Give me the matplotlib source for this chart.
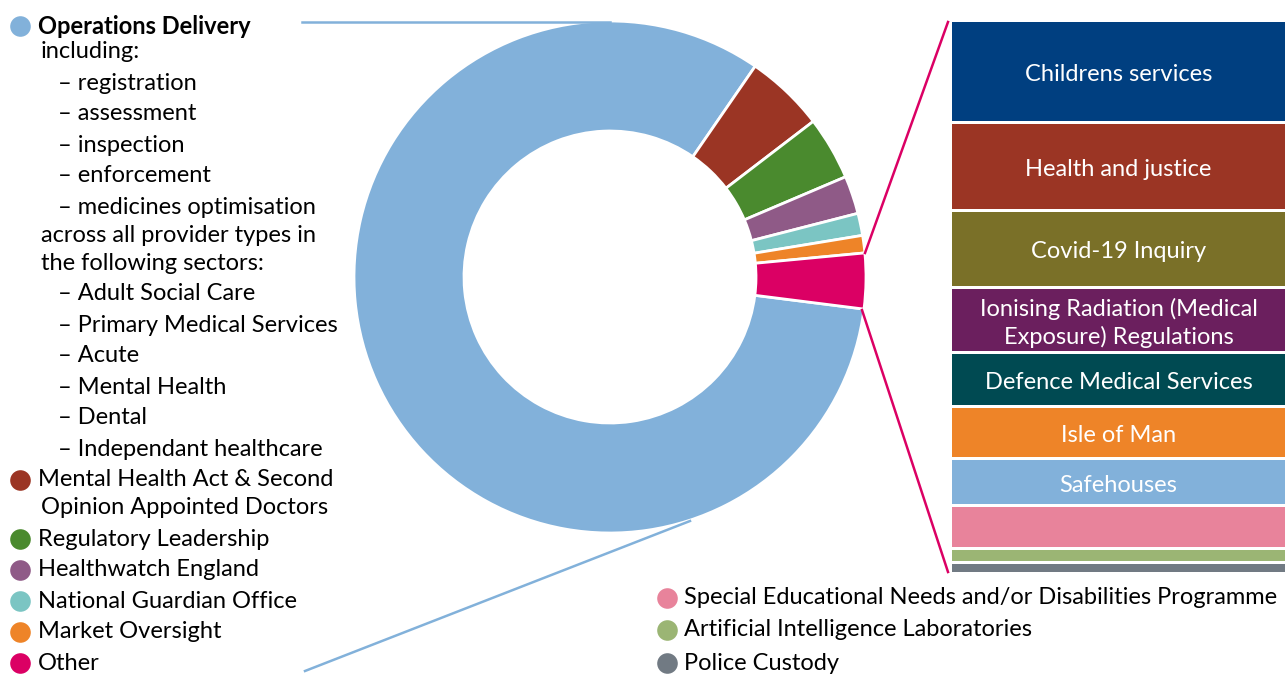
import matplotlib
matplotlib.use("Agg")
import matplotlib.pyplot as plt

plt.rcParams['font.family'] = ['Lato', 'DejaVu Sans']

# Main donut: share of spend (%)
main_labels = ['Operations Delivery', 'Mental Health Act & Second\nOpinion Appointed Doctors',
               'Regulatory Leadership', 'Healthwatch England', 'National Guardian Office',
               'Market Oversight', 'Other']
main_values = [82.6, 5.0, 4.0, 2.4, 1.4, 1.1, 3.5]
main_colors = ['#82b1da', '#9b3524', '#4a8a2e', '#8f5a87', '#7bc5c3', '#ee8428', '#db0064']

# Breakdown of "Other"
other_labels = ['Childrens services', 'Health and justice', 'Covid-19 Inquiry',
                'Ionising Radiation (Medical\nExposure) Regulations', 'Defence Medical Services',
                'Isle of Man', 'Safehouses',
                'Special Educational Needs and/or Disabilities Programme',
                'Artificial Intelligence Laboratories', 'Police Custody']
other_values = [102, 88, 77, 65, 54, 52, 47, 43, 14, 11]
other_colors = ['#003f80', '#9b3524', '#7a7028', '#6b1f5e', '#004a52',
                '#ee8428', '#82b1da', '#e8839b', '#9bb574', '#717a83']
other_in_bar = 7  # first 7 labelled inside the bar, the rest in a legend below

ops_sub = ['including:', '– registration', '– assessment', '– inspection', '– enforcement',
           '– medicines optimisation', 'across all provider types in', 'the following sectors:',
           '– Adult Social Care', '– Primary Medical Services', '– Acute', '– Mental Health',
           '– Dental', '– Independant healthcare']

W, H = 1287, 675
FS = 17
fig = plt.figure(figsize=(W / 100, H / 100), dpi=100)
ax = fig.add_axes([0, 0, 1, 1])


def Y(y):
    return H - y


# donut
cx, cy, r = 610, Y(277), 256
ax.pie(main_values, colors=main_colors, startangle=-7.2, counterclock=False,
       radius=r, center=(cx, cy),
       wedgeprops=dict(width=110, edgecolor='white', linewidth=2))

# stacked bar of "Other"
bar_top = Y(22)
scale = 553 / sum(other_values)
bar_x = (952 + 1285) / 2
bar_w = 333
top = bar_top
for i, (lab, val, col) in enumerate(zip(other_labels, other_values, other_colors)):
    h = val * scale
    ax.bar(bar_x, h - 3, width=bar_w, bottom=top - (h - 3), color=col, linewidth=0)
    if i < other_in_bar:
        ax.text(bar_x, top - (h - 3) / 2 - 3, lab, color='white', fontsize=FS,
                ha='center', va='center', linespacing=1.3)
    top -= h

# connector lines
ax.plot([865, 948], [Y(253), Y(22)], color='#db0064', lw=1.8)
ax.plot([862, 948], [Y(310), Y(572)], color='#db0064', lw=1.8)
ax.plot([302, 610], [Y(22), Y(22)], color='#82b1da', lw=1.8)
ax.plot([305, 690], [Y(671), Y(521)], color='#82b1da', lw=1.8)

# left legend
ax.scatter([20], [Y(26)], s=220, color=main_colors[0], zorder=3, linewidths=0)
ax.text(38, Y(26), main_labels[0], fontsize=FS, fontweight='bold', va='center', ha='left')
y = 52
for line in ops_sub:
    x = 58 if line.startswith('–') else 41
    ax.text(x, Y(y), line, fontsize=FS, va='center', ha='left')
    y += 28 if line.startswith('– med') or line.startswith('across') else 31

y_pos = [480, 539, 570, 601, 632, 663]
for lab, col, yy in zip(main_labels[1:], main_colors[1:], y_pos):
    ax.scatter([20], [Y(yy)], s=220, color=col, zorder=3, linewidths=0)
    for k, part in enumerate(lab.split('\n')):
        ax.text(38 if k == 0 else 41, Y(yy + 28 * k), part, fontsize=FS, va='center', ha='left')

# bottom legend for small "Other" pieces
for lab, col, yy in zip(other_labels[other_in_bar:], other_colors[other_in_bar:], [598, 630, 663]):
    ax.scatter([667], [Y(yy)], s=220, color=col, zorder=3, linewidths=0)
    ax.text(684, Y(yy), lab, fontsize=FS, va='center', ha='left')

ax.set_xlim(0, W)
ax.set_ylim(0, H)
ax.set_aspect('equal')
ax.axis('off')

fig.savefig('out.png', dpi=100)
